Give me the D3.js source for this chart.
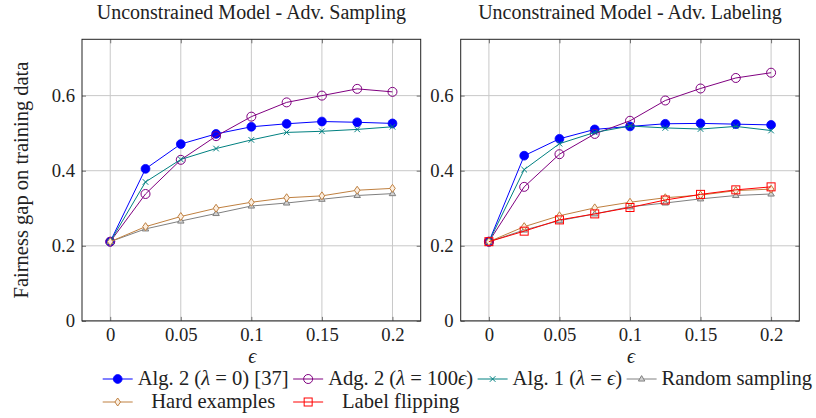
<!DOCTYPE html>
<html>
<head>
<meta charset="utf-8">
<script src="https://cdn.jsdelivr.net/npm/d3@7"></script>
<style>
  html, body { margin: 0; padding: 0; background: #fff; }
  svg { display: block; }
  text { font-family: "Liberation Serif", "DejaVu Serif", serif; fill: #222; }
</style>
</head>
<body>
<svg id="chart" width="816" height="418"></svg>
<script>
// ---------------- data ----------------
const epsilon = [0, 0.025, 0.05, 0.075, 0.1, 0.125, 0.15, 0.175, 0.2];
const xTicks = [0, 0.05, 0.1, 0.15, 0.2];
const xTickLabels = ["0", "0.05", "0.1", "0.15", "0.2"];
const yTicks = [0, 0.2, 0.4, 0.6];
const yTickLabels = ["0", "0.2", "0.4", "0.6"];
const panelTitles = ["Unconstrained Model - Adv. Sampling", "Unconstrained Model - Adv. Labeling"];
const seriesNames = ["Alg. 2 (λ = 0) [37]", "Adg. 2 (λ = 100ϵ)", "Alg. 1 (λ = ϵ)", "Random sampling", "Hard examples", "Label flipping"];

// Left panel: Adv. Sampling
const samplingAlg2 = [0.211, 0.405, 0.471, 0.498, 0.517, 0.525, 0.531, 0.529, 0.526];
const samplingAdg2 = [0.211, 0.338, 0.429, 0.492, 0.544, 0.582, 0.600, 0.618, 0.610];
const samplingAlg1 = [0.211, 0.370, 0.430, 0.459, 0.482, 0.502, 0.505, 0.510, 0.517];
const samplingRandom = [0.211, 0.245, 0.266, 0.286, 0.306, 0.314, 0.324, 0.334, 0.339];
const samplingHard = [0.211, 0.251, 0.278, 0.300, 0.316, 0.328, 0.333, 0.348, 0.353];

// Right panel: Adv. Labeling
const labelingAlg2 = [0.211, 0.440, 0.485, 0.510, 0.518, 0.525, 0.526, 0.524, 0.522];
const labelingAdg2 = [0.211, 0.357, 0.444, 0.498, 0.533, 0.587, 0.619, 0.647, 0.661];
const labelingAlg1 = [0.211, 0.403, 0.472, 0.502, 0.519, 0.514, 0.511, 0.518, 0.507];
const labelingRandom = [0.211, 0.242, 0.267, 0.285, 0.304, 0.314, 0.325, 0.334, 0.338];
const labelingHard = [0.211, 0.251, 0.280, 0.301, 0.316, 0.328, 0.335, 0.347, 0.351];
const labelingFlip = [0.211, 0.239, 0.269, 0.285, 0.302, 0.322, 0.337, 0.349, 0.357];

// ---------------- styles ----------------
const styles = [
  { color: "#0000ff", mark: "fcircle" },
  { color: "#800080", mark: "ocircle" },
  { color: "#008080", mark: "x" },
  { color: "#808080", mark: "triangle" },
  { color: "#bf8040", mark: "diamond" },
  { color: "#ff0000", mark: "square" }
];

const panels = [
  { title: panelTitles[0], x0: 82, x1: 420.7,
    series: [samplingAlg2, samplingAdg2, samplingAlg1, samplingRandom, samplingHard] },
  { title: panelTitles[1], x0: 460.7, x1: 799.3,
    series: [labelingAlg2, labelingAdg2, labelingAlg1, labelingRandom, labelingHard, labelingFlip] }
];
const yTop = 39.3, yBot = 320.9;
const FS = 20;      // titles
const LFS = 20.6;   // legend
const TFS = 18.7;   // tick labels

const svg = d3.select("#chart");

function drawMarker(g, type, color, x, y) {
  if (type === "fcircle") {
    g.append("circle").attr("cx", x).attr("cy", y).attr("r", 4.4)
      .attr("fill", color).attr("stroke", color).attr("stroke-width", 0.8);
  } else if (type === "ocircle") {
    g.append("circle").attr("cx", x).attr("cy", y).attr("r", 4.5)
      .attr("fill", "none").attr("stroke", color).attr("stroke-width", 1);
  } else if (type === "x") {
    const s = 2.8;
    g.append("path").attr("d", `M${x-s},${y-s}L${x+s},${y+s}M${x-s},${y+s}L${x+s},${y-s}`)
      .attr("stroke", color).attr("stroke-width", 1).attr("fill", "none");
  } else if (type === "triangle") {
    const s = 3.4;
    g.append("path").attr("d", `M${x},${y-s}L${x+s*0.95},${y+s*0.6}L${x-s*0.95},${y+s*0.6}Z`)
      .attr("stroke", color).attr("stroke-width", 1).attr("fill", "#d0d0d0");
  } else if (type === "diamond") {
    g.append("path").attr("d", `M${x},${y-4}L${x+2.8},${y}L${x},${y+4}L${x-2.8},${y}Z`)
      .attr("stroke", color).attr("stroke-width", 1).attr("fill", "#fbeee0");
  } else if (type === "square") {
    const s = 4;
    g.append("rect").attr("x", x-s).attr("y", y-s).attr("width", 2*s).attr("height", 2*s)
      .attr("stroke", color).attr("stroke-width", 1).attr("fill", "none");
  }
}

panels.forEach((p) => {
  const x = d3.scaleLinear().domain([-0.02, 0.22]).range([p.x0, p.x1]);
  const y = d3.scaleLinear().domain([0, 0.75]).range([yBot, yTop]);
  const g = svg.append("g");

  // grid
  g.append("g").selectAll("line").data(xTicks).join("line")
    .attr("x1", d => x(d)).attr("x2", d => x(d)).attr("y1", yTop).attr("y2", yBot)
    .attr("stroke", "#c8c8c8").attr("stroke-width", 1);
  g.append("g").selectAll("line").data(yTicks).join("line")
    .attr("x1", p.x0).attr("x2", p.x1).attr("y1", d => y(d)).attr("y2", d => y(d))
    .attr("stroke", "#c8c8c8").attr("stroke-width", 1);

  // axes with inward ticks
  const axB = g.append("g").attr("transform", `translate(0,${yBot})`)
    .call(d3.axisBottom(x).tickValues(xTicks).tickFormat((d, i) => xTickLabels[i]).tickSizeInner(-4).tickSizeOuter(0).tickPadding(7));
  const axT = g.append("g").attr("transform", `translate(0,${yTop})`)
    .call(d3.axisTop(x).tickValues(xTicks).tickFormat("").tickSizeInner(-4).tickSizeOuter(0));
  const axL = g.append("g").attr("transform", `translate(${p.x0},0)`)
    .call(d3.axisLeft(y).tickValues(yTicks).tickFormat((d, i) => yTickLabels[i]).tickSizeInner(-4).tickSizeOuter(0).tickPadding(7));
  const axR = g.append("g").attr("transform", `translate(${p.x1},0)`)
    .call(d3.axisRight(y).tickValues(yTicks).tickFormat("").tickSizeInner(-4).tickSizeOuter(0));
  [axB, axT, axL, axR].forEach(a => {
    a.select(".domain").remove();
    a.selectAll(".tick line").attr("stroke", "#555").attr("stroke-width", 0.8);
    a.selectAll("text").attr("font-family", '"Liberation Serif", serif').attr("font-size", TFS).attr("fill", "#222");
  });

  // frame
  g.append("rect").attr("x", p.x0).attr("y", yTop).attr("width", p.x1 - p.x0).attr("height", yBot - yTop)
    .attr("fill", "none").attr("stroke", "#222").attr("stroke-width", 1);

  // series
  const line = d3.line().x((d, i) => x(epsilon[i])).y(d => y(d));
  p.series.forEach((vals, si) => {
    const st = styles[si];
    const sg = g.append("g");
    sg.append("path").datum(vals).attr("d", line)
      .attr("fill", "none").attr("stroke", st.color).attr("stroke-width", 1);
    vals.forEach((v, i) => drawMarker(sg, st.mark, st.color, x(epsilon[i]), y(v)));
  });

  // title
  svg.append("text").attr("x", (p.x0 + p.x1) / 2).attr("y", 19)
    .attr("text-anchor", "middle").attr("font-size", FS).text(p.title);
  // x label
  svg.append("text").attr("x", (p.x0 + p.x1) / 2 + 1).attr("y", 363)
    .attr("text-anchor", "middle").attr("font-size", FS).attr("font-style", "italic").text("ϵ");
});

// y label
svg.append("text").attr("transform", `translate(28,180) rotate(-90)`)
  .attr("text-anchor", "middle").attr("font-size", 20.5).text("Fairness gap on training data");

// ---------------- legend ----------------
function legendText(t, str) {
  const parts = str.split(/([λϵ])/);
  parts.forEach(s => {
    if (!s) return;
    const ts = t.append("tspan").text(s);
    if (s === "λ" || s === "ϵ") ts.attr("font-style", "italic");
  });
}
const leg = svg.append("g");
const rows = [[0, 1, 2, 3], [4, 5]];
const rowY = [379, 402];
const widths = seriesNames.map(n => {
  const t = leg.append("text").attr("font-size", LFS);
  legendText(t, n);
  const w = t.node().getComputedTextLength();
  t.remove();
  return w;
});
let cx = 102.7;
const colStart = [], colW = [];
for (let c = 0; c < 4; c++) {
  const ids = rows.map(r => r[c]).filter(v => v !== undefined);
  const w = d3.max(ids, i => widths[i]);
  colStart.push(cx); colW.push(w);
  cx += 30 + 5 + w + 4.5;
}
rows.forEach((r, ri) => {
  r.forEach((si, c) => {
    const st = styles[si];
    const x0 = colStart[c], yy = rowY[ri];
    leg.append("line").attr("x1", x0).attr("x2", x0 + 30).attr("y1", yy).attr("y2", yy)
      .attr("stroke", st.color).attr("stroke-width", 1);
    drawMarker(leg, st.mark, st.color, x0 + 15, yy);
    const t = leg.append("text").attr("font-size", LFS)
      .attr("x", x0 + 35 + colW[c] / 2).attr("y", yy + 5.5).attr("text-anchor", "middle");
    legendText(t, seriesNames[si]);
  });
});
</script>
</body>
</html>
